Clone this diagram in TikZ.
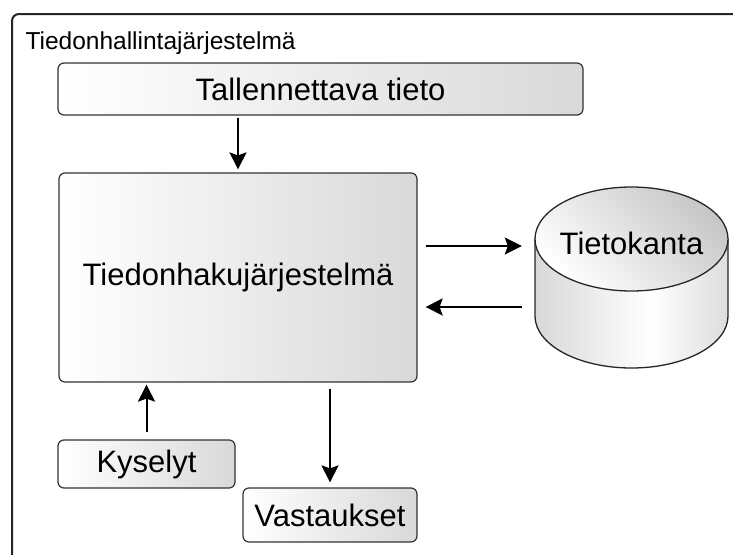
\documentclass[tikz,border=0pt]{standalone}
\usepackage{fontspec}
\setmainfont{Liberation Sans}
\usetikzlibrary{arrows.meta,calc}
\pgfdeclarehorizontalshading{cylside}{100bp}{color(0bp)=(black!28); color(55bp)=(white); color(100bp)=(black!30)}
\tikzset{
  box/.style={draw=black!80, line width=1.2pt, rounded corners=6pt,
    left color=white, right color=black!15, inner sep=0pt,
    font=\fontsize{31}{37}\selectfont},
  arr/.style={line width=2pt, -{Stealth[length=17pt,width=17pt,inset=3pt]}},
  frame/.style={draw=black!85, line width=2pt, rounded corners=7pt},
  cyl/.style={draw=black!85, line width=1.3pt}
}
\begin{document}
\begin{tikzpicture}[x=1pt,y=1pt]
\useasboundingbox (0,0) rectangle (733,-554);
% outer system frame, open to the right and bottom
\draw[frame] (780,-14) -- (12,-14) -- (12,-600);
\node[anchor=base west, font=\fontsize{24.5}{29}\selectfont] (title) at (22,-49) {Tiedonhallintajärjestelmä};

% boxes
\node[box, minimum width=525, minimum height=52] (tall) at (320.5,-89) {Tallennettava tieto};
\node[box, minimum width=358, minimum height=209] (main) at (238,-277.5) {Tiedonhakujärjestelmä};
\node[box, minimum width=177, minimum height=48] (kys) at (146.5,-464) {Kyselyt};
\node[box, minimum width=174, minimum height=54] (vast) at (330,-515) {Vastaukset};

% database cylinder
\node[minimum width=193, minimum height=181, inner sep=0pt] (db) at (631.5,-277.5) {};
\path[shading=cylside] (535,-239) -- (535,-316)
  arc[start angle=180, end angle=360, x radius=96.5, y radius=52] -- (728,-239) -- cycle;
\draw[cyl] (535,-239) -- (535,-316)
  arc[start angle=180, end angle=360, x radius=96.5, y radius=52] -- (728,-239);
\draw[cyl, left color=white, right color=black!22, shading angle=135] (631.5,-239) ellipse[x radius=96.5, y radius=52];
\node[font=\fontsize{31}{37}\selectfont] (dbtext) at (631.5,-243) {Tietokanta};

% connectors
\draw[arr, shorten <=2pt, shorten >=3pt] (main.north |- tall.south) -- (main.north);
\draw[arr, shorten <=8pt, shorten >=13pt] ([yshift=31.5pt]main.east) -- ([yshift=31.5pt]main.east -| db.west);
\draw[arr, shorten <=13pt, shorten >=8pt] ([yshift=-29.5pt]main.east -| db.west) -- ([yshift=-29.5pt]main.east);
\draw[arr, shorten <=7pt, shorten >=2pt] (kys.north) -- (kys.north |- main.south);
\draw[arr, shorten <=6pt, shorten >=5pt] (vast.north |- main.south) -- (vast.north);
\end{tikzpicture}
\end{document}
